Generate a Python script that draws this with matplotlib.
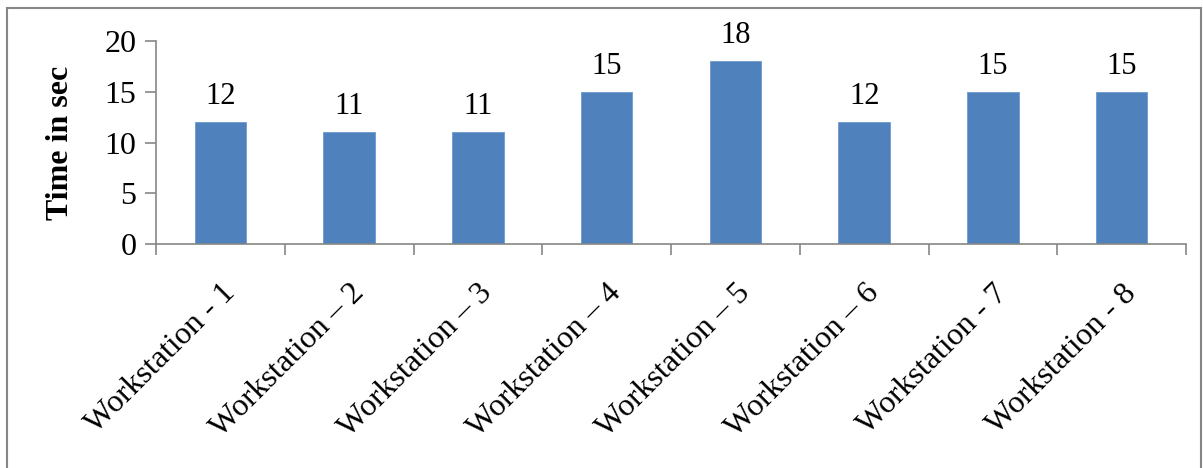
import numpy as np
import matplotlib.pyplot as plt
from matplotlib.patches import Rectangle

plt.rcParams['font.family'] = ['Liberation Serif', 'DejaVu Serif']

# 各工作站的作业时间
stations = ["Workstation - 1", "Workstation \u2013 2", "Workstation \u2013 3",
            "Workstation \u2013 4", "Workstation \u2013 5", "Workstation \u2013 6",
            "Workstation - 7", "Workstation - 8"]
times = [12, 11, 11, 15, 18, 12, 15, 15]

fig = plt.figure(figsize=(12.03, 4.68), dpi=100)
ax = fig.add_axes([156/1203, 1-244/468, (1186-156)/1203, (244-41)/468])

x = np.arange(len(stations))
bars = ax.bar(x, times, width=0.4, color='#4f81bd', edgecolor='#6f9bd0', linewidth=0.6)
for b, v in zip(bars, times):
    ax.annotate(str(v), (b.get_x() + b.get_width()/2, v), xytext=(0, 8),
                textcoords='offset points', ha='center', va='bottom', fontsize=22)

ax.set_xlim(-0.5, len(stations) - 0.5)
ax.set_ylim(0, 20)
ax.set_yticks([0, 5, 10, 15, 20])
ax.set_xticks(np.arange(len(stations) + 1) - 0.5)
ax.set_xticklabels([])
ax.set_xticks(x, minor=True)
ax.set_xticklabels(stations, minor=True, rotation=45, ha='right',
                   rotation_mode='anchor', fontsize=23)
ax.tick_params(axis='x', which='minor', length=0, pad=25)
ax.tick_params(axis='x', which='major', length=8, color='#868686', width=1.2)
ax.tick_params(axis='y', length=8, color='#868686', width=1.2, labelsize=23, pad=6)

for s in ['top', 'right']:
    ax.spines[s].set_visible(False)
for s in ['left', 'bottom']:
    ax.spines[s].set_color('#868686')
    ax.spines[s].set_linewidth(1.2)

ax.set_ylabel("Time in sec", fontsize=23, fontweight='bold', labelpad=21)

# 外框
fig.patches.append(Rectangle((7/1203, -0.1), (1201-7)/1203, 1.1 - 8/468,
                             transform=fig.transFigure, fill=False,
                             edgecolor='#868686', linewidth=1.5))

fig.savefig("out.png", dpi=100)
